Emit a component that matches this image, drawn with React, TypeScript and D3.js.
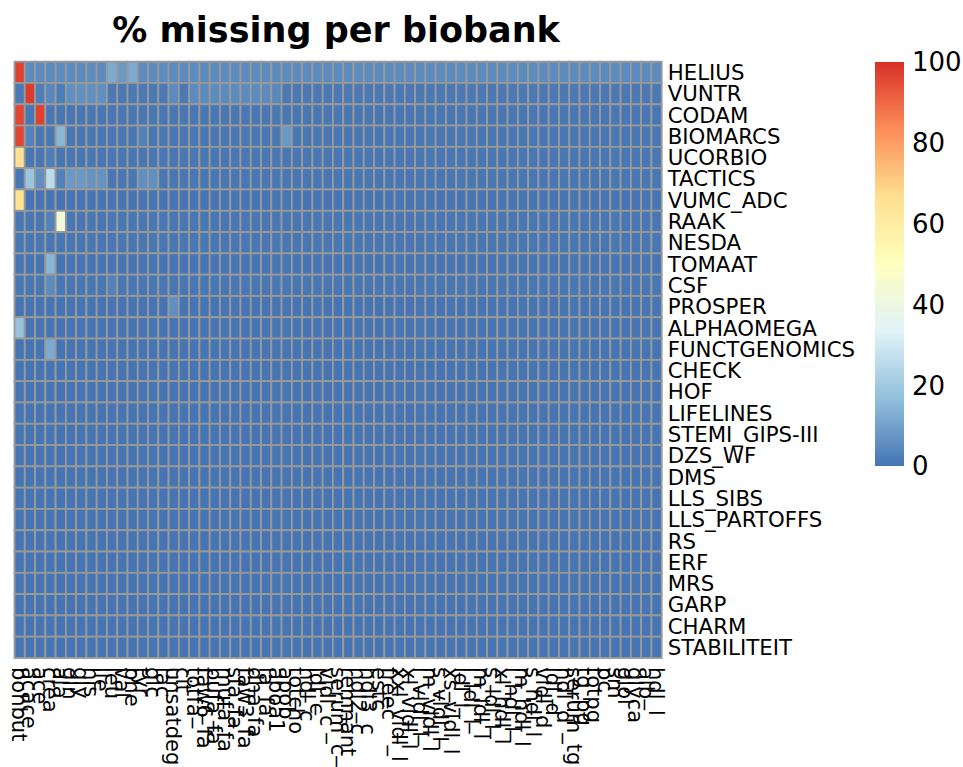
import React from 'react';
import * as d3 from 'd3';

const biobanks = [
  'HELIUS', 'VUNTR', 'CODAM', 'BIOMARCS', 'UCORBIO', 'TACTICS', 'VUMC_ADC', 'RAAK',
  'NESDA', 'TOMAAT', 'CSF', 'PROSPER', 'ALPHAOMEGA', 'FUNCTGENOMICS', 'CHECK', 'HOF',
  'LIFELINES', 'STEMI_GIPS-III', 'DZS_WF', 'DMS', 'LLS_SIBS', 'LLS_PARTOFFS', 'RS', 'ERF',
  'MRS', 'GARP', 'CHARM', 'STABILITEIT',
];

const metabolites = [
  'bohbut', 'acace', 'ace', 'crea', 'ala', 'gln', 'gly', 'his', 'ile', 'leu', 'val',
  'phe', 'tyr', 'glc', 'lac', 'unsatdeg', 'cit', 'totfa', 'faw6_fa', 'pufa_fa', 'mufa_fa',
  'sfa_fa', 'faw3_fa', 'dha_fa', 'la_fa', 'apoa1', 'apob', 'totcho', 'hdl_c', 'ldl_c',
  'vldl_c', 'serum_c', 'remnant_c', 'hdl2_c', 'hdl3_c', 'estc', 'freec', 'xxl_vldl_l',
  'xl_vldl_l', 'l_vldl_l', 'm_vldl_l', 's_vldl_l', 'xs_vldl_l', 'idl_l', 'l_ldl_l',
  'm_ldl_l', 's_ldl_l', 'xl_hdl_l', 'l_hdl_l', 'm_hdl_l', 's_hdl_l', 'vldl_d', 'ldl_d',
  'hdl_d', 'serum_tg', 'tg_pg', 'totpg', 'pc', 'sm', 'glol', 'glyca', 'alb', 'hdl_l',
];

// typical % missing of a biobank (most of its metabolites)
const rowBase = [5, 1, 0.5, 0.5, 0.5, 0.5, 0, 0.5, 0.5, 0, 0.5, 0, 0, 0, 0, 0, 0, 0, 0, 0, 0, 0, 0, 0, 0, 0, 0, 0];

// cells that differ from their row's typical value: [biobank, metabolite, % missing]
const cells: [string, string, number][] = [
  ['HELIUS', 'bohbut', 97], ['HELIUS', 'leu', 12], ['HELIUS', 'val', 8], ['HELIUS', 'phe', 12],
  ['VUNTR', 'bohbut', 1], ['VUNTR', 'acace', 98], ['VUNTR', 'ace', 2], ['VUNTR', 'crea', 4],
  ['VUNTR', 'ala', 2], ['VUNTR', 'gln', 6], ['VUNTR', 'gly', 6], ['VUNTR', 'his', 6],
  ['VUNTR', 'ile', 6], ['VUNTR', 'leu', 1], ['VUNTR', 'unsatdeg', 5], ['VUNTR', 'totfa', 5],
  ['VUNTR', 'faw6_fa', 5], ['VUNTR', 'pufa_fa', 5], ['VUNTR', 'mufa_fa', 5], ['VUNTR', 'sfa_fa', 5],
  ['VUNTR', 'faw3_fa', 5], ['VUNTR', 'dha_fa', 5], ['VUNTR', 'la_fa', 5], ['VUNTR', 'apoa1', 4],
  ['CODAM', 'bohbut', 96], ['CODAM', 'ace', 97],
  ['BIOMARCS', 'bohbut', 96], ['BIOMARCS', 'acace', 3], ['BIOMARCS', 'ala', 15],
  ['BIOMARCS', 'tyr', 3], ['BIOMARCS', 'apob', 8],
  ['UCORBIO', 'bohbut', 65], ['UCORBIO', 'crea', 2],
  ['TACTICS', 'acace', 19], ['TACTICS', 'ace', 6], ['TACTICS', 'crea', 26], ['TACTICS', 'ala', 3],
  ['TACTICS', 'gln', 8], ['TACTICS', 'gly', 8], ['TACTICS', 'his', 7], ['TACTICS', 'ile', 7],
  ['TACTICS', 'tyr', 6], ['TACTICS', 'glc', 6],
  ['VUMC_ADC', 'bohbut', 65],
  ['RAAK', 'crea', 3], ['RAAK', 'ala', 42],
  ['TOMAAT', 'crea', 15],
  ['CSF', 'crea', 5], ['CSF', 'leu', 3],
  ['PROSPER', 'unsatdeg', 6],
  ['ALPHAOMEGA', 'bohbut', 18],
  ['FUNCTGENOMICS', 'crea', 12],
];

const legendTicks = [0, 20, 40, 60, 80, 100];
const paletteColors = ['#4575B4', '#91BFDB', '#E0F3F8', '#FFFFBF', '#FEE090', '#FC8D59', '#D73027'];

const gridLeft = 14.5;
const gridRight = 661.7;
const gridTop = 61.7;
const gridBottom = 658;

const App = () => {
  const x = d3.scaleBand<string>().domain(metabolites).range([gridLeft, gridRight]);
  const y = d3.scaleBand<string>().domain(biobanks).range([gridTop, gridBottom]);
  const color = d3.scaleLinear<string>()
    .domain(paletteColors.map((_, i) => (i * 100) / (paletteColors.length - 1)))
    .range(paletteColors)
    .interpolate(d3.interpolateRgb);
  const legendY = d3.scaleLinear().domain([0, 100]).range([466, 62]);

  const lookup = new Map(cells.map(([b, m, v]) => [b + '|' + m, v]));
  const value = (b: string, i: number, m: string) => {
    const v = lookup.get(b + '|' + m);
    return v === undefined ? rowBase[i] : v;
  };

  const font = '"DejaVu Sans", sans-serif';

  return (
    <svg width={963} height={767} style={{ position: 'absolute', left: 0, top: 0, background: '#fff' }}>
      <defs>
        <linearGradient id="legendGrad" x1="0" y1="1" x2="0" y2="0">
          {paletteColors.map((c, i) => (
            <stop key={i} offset={`${(i * 100) / (paletteColors.length - 1)}%`} stopColor={c} />
          ))}
        </linearGradient>
      </defs>
      <text x={336} y={42} textAnchor="middle" fontFamily={font} fontWeight="bold" fontSize={35}>
        % missing per biobank
      </text>
      <g>
        {biobanks.map((b, i) =>
          metabolites.map((m) => (
            <rect
              key={b + m}
              x={x(m)}
              y={y(b)}
              width={x.bandwidth()}
              height={y.bandwidth()}
              fill={color(value(b, i, m))}
              stroke="#999999"
              strokeWidth={1.8}
            />
          ))
        )}
      </g>
      <g fontFamily={font} fontSize={21.3}>
        {biobanks.map((b) => (
          <text key={b} x={gridRight + 6} y={(y(b) as number) + y.bandwidth() / 2} dy="0.36em">
            {b}
          </text>
        ))}
      </g>
      <g fontFamily={font} fontSize={21}>
        {metabolites.map((m) => {
          const cx = (x(m) as number) + x.bandwidth() / 2;
          return (
            <text key={m} transform={`translate(${cx},${gridBottom + 9}) rotate(90)`} dy="0.36em">
              {m}
            </text>
          );
        })}
      </g>
      <rect x={875} y={legendY(100)} width={29} height={legendY(0) - legendY(100)} fill="url(#legendGrad)" />
      <g fontFamily={font} fontSize={26}>
        {legendTicks.map((t) => (
          <text key={t} x={912} y={legendY(t)} dy="0.36em">
            {t}
          </text>
        ))}
      </g>
    </svg>
  );
};

export default App;
